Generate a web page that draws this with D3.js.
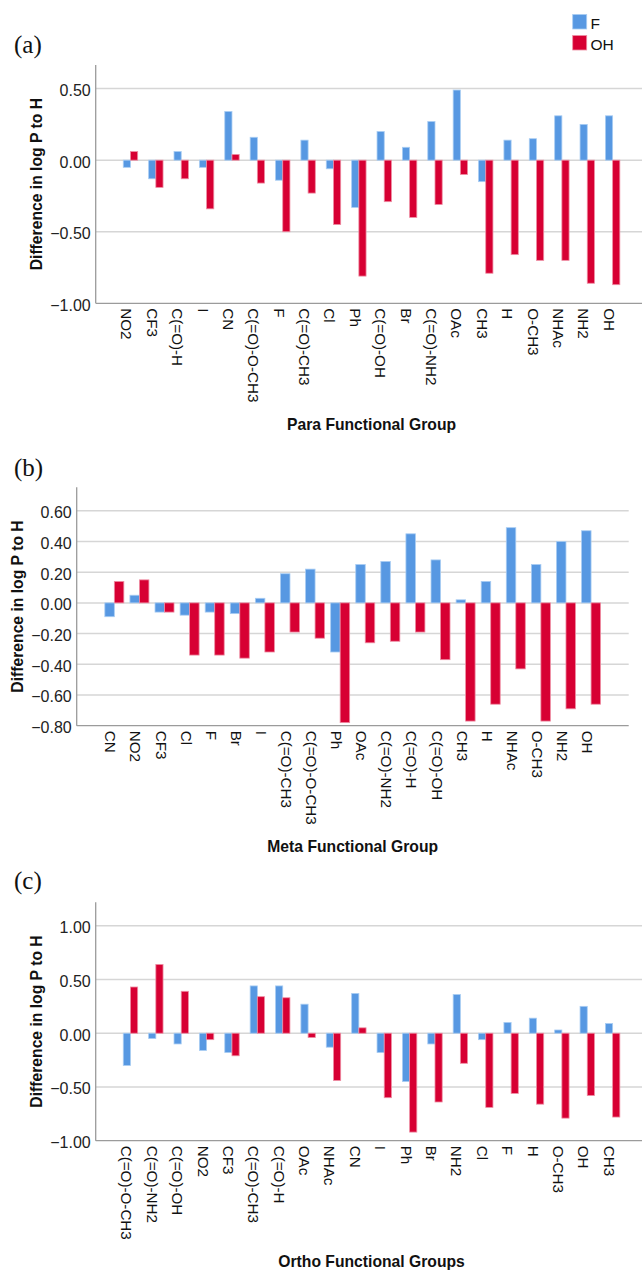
<!DOCTYPE html>
<html>
<head>
<meta charset="utf-8">
<script src="https://cdn.jsdelivr.net/npm/d3@7"></script>
<style>
  body { margin: 0; background: #fff; }
  svg { display: block; }
</style>
</head>
<body>
<script>
// para substituents
var paraGroups = ["NO2", "CF3", "C(=O)-H", "I", "CN", "C(=O)-O-CH3", "F", "C(=O)-CH3", "Cl", "Ph",
  "C(=O)-OH", "Br", "C(=O)-NH2", "OAc", "CH3", "H", "O-CH3", "NHAc", "NH2", "OH"];
var paraF  = [-0.05, -0.13, 0.06, -0.05, 0.34, 0.16, -0.14, 0.14, -0.06, -0.33,
  0.20, 0.09, 0.27, 0.49, -0.15, 0.14, 0.15, 0.31, 0.25, 0.31];
var paraOH = [0.06, -0.19, -0.13, -0.34, 0.04, -0.16, -0.50, -0.23, -0.45, -0.81,
  -0.29, -0.40, -0.31, -0.10, -0.79, -0.66, -0.70, -0.70, -0.86, -0.87];

// meta substituents
var metaGroups = ["CN", "NO2", "CF3", "Cl", "F", "Br", "I", "C(=O)-CH3", "C(=O)-O-CH3", "Ph",
  "OAc", "C(=O)-NH2", "C(=O)-H", "C(=O)-OH", "CH3", "H", "NHAc", "O-CH3", "NH2", "OH"];
var metaF  = [-0.09, 0.05, -0.06, -0.08, -0.06, -0.07, 0.03, 0.19, 0.22, -0.32,
  0.25, 0.27, 0.45, 0.28, 0.02, 0.14, 0.49, 0.25, 0.40, 0.47];
var metaOH = [0.14, 0.15, -0.06, -0.34, -0.34, -0.36, -0.32, -0.19, -0.23, -0.78,
  -0.26, -0.25, -0.19, -0.37, -0.77, -0.66, -0.43, -0.77, -0.69, -0.66];

// ortho substituents
var orthoGroups = ["C(=O)-O-CH3", "C(=O)-NH2", "C(=O)-OH", "NO2", "CF3", "C(=O)-CH3", "C(=O)-H", "OAc", "NHAc", "CN",
  "I", "Ph", "Br", "NH2", "Cl", "F", "H", "O-CH3", "OH", "CH3"];
var orthoF  = [-0.30, -0.05, -0.10, -0.16, -0.18, 0.44, 0.44, 0.27, -0.13, 0.37,
  -0.18, -0.45, -0.10, 0.36, -0.06, 0.10, 0.14, 0.03, 0.25, 0.09];
var orthoOH = [0.43, 0.64, 0.39, -0.06, -0.21, 0.34, 0.33, -0.04, -0.44, 0.05,
  -0.60, -0.92, -0.64, -0.28, -0.69, -0.56, -0.66, -0.79, -0.58, -0.78];

var paraTicks  = [-1.0, -0.5, 0.0, 0.5];
var metaTicks  = [-0.8, -0.6, -0.4, -0.2, 0.0, 0.2, 0.4, 0.6];
var orthoTicks = [-1.0, -0.5, 0.0, 0.5, 1.0];

var seriesNames = ["F", "OH"];
var colors = ["#5798e2", "#d70033"];

var w = 642;
var h = 1270;
var font = "'Liberation Sans', Arial, sans-serif";

var svg = d3.select("body").append("svg")
  .attr("width", w)
  .attr("height", h);

// draws one panel; layout numbers are per panel
function panel(opt) {
  var g = svg.append("g");

  var x = d3.scalePoint()
    .domain(opt.groups)
    .range([opt.left, opt.right])
    .padding(opt.pad);

  var y = d3.scaleLinear()
    .domain(opt.domain)
    .range([opt.bottom, opt.top]);

  var gridRight = Math.min(opt.right, w);

  // grid lines (bottom one is the axis)
  g.selectAll(".grid")
    .data(opt.ticks.filter(function(t) { return t > opt.domain[0]; }))
    .enter()
    .append("line")
    .attr("x1", opt.left)
    .attr("x2", gridRight)
    .attr("y1", function(d) { return y(d); })
    .attr("y2", function(d) { return y(d); })
    .attr("stroke", "#d6d6d6")
    .attr("stroke-width", 1.5);

  var rows = opt.groups.map(function(k, i) { return { group: k, F: opt.f[i], OH: opt.oh[i] }; });

  var bw = opt.barWidth;
  [opt.f, opt.oh].forEach(function(vals, s) {
    g.selectAll(".bar" + s)
      .data(rows)
      .enter()
      .append("rect")
      .attr("x", function(d) { return s == 0 ? x(d.group) - bw : x(d.group); })
      .attr("width", bw)
      .attr("y", function(d) { var v = d[seriesNames[s]]; return y(Math.max(0, v)); })
      .attr("height", function(d) { var v = d[seriesNames[s]]; return Math.abs(y(v) - y(0)); })
      .attr("fill", colors[s])
      .attr("stroke", s == 0 ? "#a9cdf3" : "#ee8ea4")
      .attr("stroke-width", 0.8);
  });

  // axis lines
  g.append("line")
    .attr("x1", opt.left).attr("x2", opt.left)
    .attr("y1", opt.top).attr("y2", opt.bottom)
    .attr("stroke", "#9b9b9b").attr("stroke-width", 1.3);
  g.append("line")
    .attr("x1", opt.left).attr("x2", gridRight)
    .attr("y1", opt.bottom).attr("y2", opt.bottom)
    .attr("stroke", "#9b9b9b").attr("stroke-width", 1.3);

  // y tick labels
  g.selectAll(".ytick")
    .data(opt.ticks)
    .enter()
    .append("text")
    .text(function(d) { return d3.format(".2f")(d); })
    .attr("x", opt.left - 5)
    .attr("y", function(d) { return y(d) + 7.5; })
    .attr("text-anchor", "end")
    .attr("font-family", font)
    .attr("font-size", 16)
    .attr("fill", "#222");

  // x category labels, rotated
  g.selectAll(".xlab")
    .data(opt.groups)
    .enter()
    .append("text")
    .text(function(d) { return d; })
    .attr("transform", function(d) { return "translate(" + (x(d) - 3.5) + "," + (opt.bottom + 5) + ") rotate(90)"; })
    .attr("dy", "0.36em")
    .attr("text-anchor", "start")
    .attr("font-family", font)
    .attr("font-size", 15.2)
    .attr("fill", "#111");

  // axis titles
  g.append("text")
    .text("Difference in log P to H")
    .attr("transform", "translate(" + (opt.left - 54) + "," + ((opt.top + opt.bottom) / 2) + ") rotate(-90)")
    .attr("text-anchor", "middle")
    .attr("font-family", font)
    .attr("font-weight", "bold")
    .attr("font-size", 15.7)
    .attr("fill", "#111");

  g.append("text")
    .text(opt.title)
    .attr("x", (opt.left + opt.right) / 2)
    .attr("y", opt.bottom + 126.3)
    .attr("text-anchor", "middle")
    .attr("font-family", font)
    .attr("font-weight", "bold")
    .attr("font-size", 15.7)
    .attr("fill", "#111");

  // panel letter
  g.append("text")
    .text(opt.letter)
    .attr("x", 14)
    .attr("y", opt.letterY)
    .attr("font-family", "'Liberation Serif', 'DejaVu Serif', serif")
    .attr("font-size", 25)
    .attr("fill", "#111");
}

panel({ groups: paraGroups, f: paraF, oh: paraOH, ticks: paraTicks,
  domain: [-1.0, 0.665], left: 95.7, right: 647.4, pad: 1.37, top: 65, bottom: 303.3,
  barWidth: 7.2, title: "Para Functional Group", letter: "(a)", letterY: 52.5 });

panel({ groups: metaGroups, f: metaF, oh: metaOH, ticks: metaTicks,
  domain: [-0.8, 0.753], left: 76.7, right: 628.7, pad: 1.5, top: 487.3, bottom: 725.7,
  barWidth: 9.5, title: "Meta Functional Group", letter: "(b)", letterY: 475.5 });

panel({ groups: orthoGroups, f: orthoF, oh: orthoOH, ticks: orthoTicks,
  domain: [-1.0, 1.218], left: 95.7, right: 647.4, pad: 1.37, top: 902.3, bottom: 1140.7,
  barWidth: 7.2, title: "Ortho Functional Groups", letter: "(c)", letterY: 889 });

// legend (top right)
var legend = svg.append("g");
legend.selectAll("rect")
  .data(seriesNames)
  .enter()
  .append("rect")
  .attr("x", 572.7)
  .attr("y", function(d, i) { return 14.5 + i * 21; })
  .attr("width", 14)
  .attr("height", 14.5)
  .attr("fill", function(d, i) { return colors[i]; })
  .attr("stroke", function(d, i) { return i == 0 ? "#a9cdf3" : "#ee8ea4"; })
  .attr("stroke-width", 0.8);
legend.selectAll("text")
  .data(seriesNames)
  .enter()
  .append("text")
  .text(function(d) { return d; })
  .attr("x", 590.5)
  .attr("y", function(d, i) { return 29.3 + i * 21; })
  .attr("font-family", font)
  .attr("font-size", 15.5)
  .attr("fill", "#111");
</script>
</body>
</html>
